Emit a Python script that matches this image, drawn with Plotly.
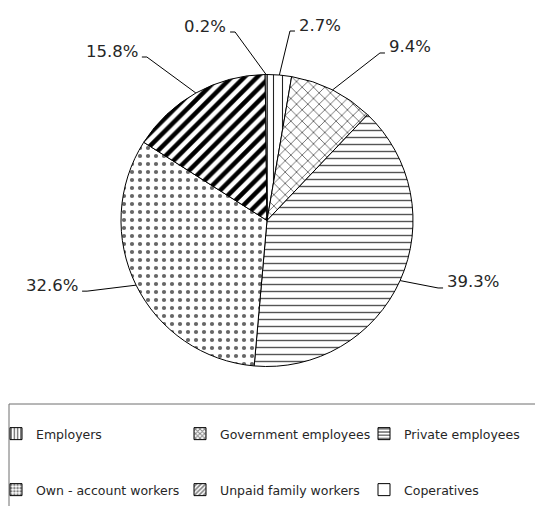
import math
import plotly.graph_objects as go

# data
categories = ["Employers", "Government employees", "Private employees",
              "Own - account workers", "Unpaid family workers", "Coperatives"]
shares = [2.7, 9.4, 39.3, 32.6, 15.8, 0.2]

# styles (hatch patterns per slice)
pattern_shapes = ["|", "x", "-", ".", "/", ""]
pattern_sizes = [9, 8, 7, 8, 9, 8]
pattern_solidity = [0.12, 0.15, 0.2, 0.22, 0.5, 0.1]
pattern_fg = ["#222222", "#222222", "#555555", "#666666", "#000000", "#000000"]

# label placement: elbow offset (px) from the slice's rim point
label_offsets = [(10.6, -44), (47.5, -37), (38, 7.4), (-49, 6), (-49, -36), (-31, -42.5)]

W, H = 543, 506
BOTTOM = 120  # bottom margin that holds the legend
PAGE_PAD = 8  # the html body margin shifts the figure by this much
CX, CY, R = 267, 220.5, 146
FONT = "DejaVu Sans"


def px(x):
    return (x - PAGE_PAD) / W


def py(y):
    return 1 - (y - PAGE_PAD) / (H - BOTTOM)


fig = go.Figure()

fig.add_trace(go.Pie(
    labels=categories,
    values=shares,
    sort=False,
    direction="clockwise",
    rotation=0,
    textinfo="none",
    showlegend=False,
    marker=dict(
        colors=["white"] * len(shares),
        line=dict(color="black", width=1),
        pattern=dict(shape=pattern_shapes, size=pattern_sizes,
                     solidity=pattern_solidity, fgcolor=pattern_fg,
                     bgcolor="white"),
    ),
    domain=dict(x=[px(CX - R), px(CX + R)], y=[py(CY + R), py(CY - R)]),
))

# legend entries (two rows, three columns)
for i, cat in enumerate(categories):
    fig.add_trace(go.Bar(
        x=[None], y=[None], name=cat,
        legend="legend" if i < 3 else "legend2",
        legendwidth=139 if i % 3 < 2 else 118,
        marker=dict(color="white", line=dict(color="black", width=1),
                    pattern=dict(shape=pattern_shapes[i], size=4,
                                 solidity=0.5, fgcolor="black",
                                 bgcolor="white")),
    ))

# leader lines and percentage labels
shapes = []
annotations = []
total = sum(shares)
cum = 0
for v, (dx, dy) in zip(shares, label_offsets):
    mid = (cum + v / 2) / total * 2 * math.pi
    cum += v
    ex = CX + R * math.sin(mid)
    ey = CY - R * math.cos(mid)
    bx, by = ex + dx, ey + dy
    side = 1 if dx > 0 else -1
    tx = bx + 5 * side
    shapes.append(dict(
        type="path", xref="paper", yref="paper",
        path=f"M {px(ex)},{py(ey)} L {px(bx)},{py(by)} L {px(tx)},{py(by)}",
        line=dict(color="black", width=1),
    ))
    annotations.append(dict(
        x=px(tx + 2 * side), y=py(by - 6), xref="paper", yref="paper",
        text=f"{v:.1f}%", showarrow=False,
        xanchor="left" if side > 0 else "right", yanchor="middle",
        font=dict(family=FONT, size=16.5, color="#262626"),
    ))

# legend frame
shapes.append(dict(
    type="rect", xref="paper", yref="paper",
    x0=px(9), x1=px(W + 30), y0=py(H + 30), y1=py(404),
    line=dict(color="#6e6e6e", width=1), fillcolor="rgba(0,0,0,0)",
))

legend_style = dict(
    orientation="h", xanchor="left", yanchor="middle",
    entrywidthmode="pixels", bgcolor="rgba(0,0,0,0)",
    font=dict(family=FONT, size=12.5, color="#262626"),
    itemclick=False, itemdoubleclick=False,
)

fig.update_layout(
    width=W, height=H,
    margin=dict(l=0, r=0, t=0, b=BOTTOM, autoexpand=False),
    paper_bgcolor="white", plot_bgcolor="white",
    xaxis=dict(visible=False), yaxis=dict(visible=False),
    shapes=shapes, annotations=annotations,
    legend=dict(x=px(-4), y=py(434), **legend_style),
    legend2=dict(x=px(-4), y=py(490), **legend_style),
)

fig.write_html("out.html")
